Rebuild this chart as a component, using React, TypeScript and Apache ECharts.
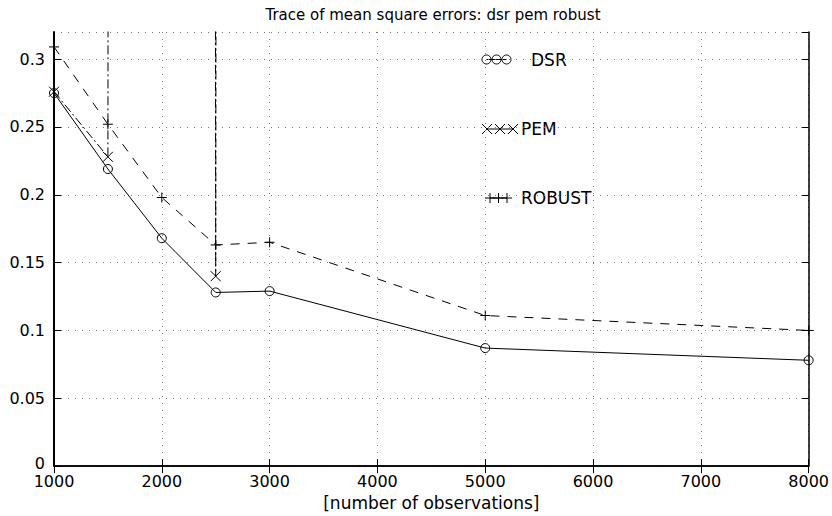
import React, { useEffect, useRef } from "react";
import * as echarts from "echarts";

const titleText = "Trace of mean square errors: dsr pem robust";
const xName = "[number of observations]";
const observations = [1000, 1500, 2000, 2500, 3000, 5000, 8000];
const dsrValues = [0.275, 0.219, 0.168, 0.128, 0.129, 0.087, 0.078];
// PEM leaves the plotted range (very large values) at 2000, 3000, 5000, 8000
const pemValues = [0.276, 0.228, 40, 0.14, 40, 40, 40];
const robustValues = [0.309, 0.252, 0.198, 0.163, 0.165, 0.111, 0.1];
const legendNames = ["DSR", "PEM", "ROBUST"];

const FONT = "DejaVu Sans";
const BLACK = "#000";

const crossPath = "path://M0 0L10 10M10 0L0 10";
const plusPath = "path://M5 0L5 10M0 5L10 5";

function pairs(ys: number[]) {
  return observations.map((x, i) => [x, ys[i]]);
}

export default function App() {
  const ref = useRef<HTMLDivElement>(null);
  useEffect(() => {
    if (!ref.current) return;
    const chart = echarts.init(ref.current, undefined, { renderer: "svg" });
    const axisLineStyle = { color: BLACK, width: 1.5 };
    const stroke = { stroke: BLACK, lineWidth: 1, fill: "none" };
    const cross = (cx: number, cy: number, h: number) => [
      { type: "line", shape: { x1: cx - h, y1: cy - h, x2: cx + h, y2: cy + h }, style: stroke },
      { type: "line", shape: { x1: cx - h, y1: cy + h, x2: cx + h, y2: cy - h }, style: stroke },
    ];
    const plus = (cx: number, cy: number, h: number) => [
      { type: "line", shape: { x1: cx - h, y1: cy, x2: cx + h, y2: cy }, style: stroke },
      { type: "line", shape: { x1: cx, y1: cy - h, x2: cx, y2: cy + h }, style: stroke },
    ];
    const legendFont = `17px "${FONT}"`;
    const option: any = {
      animation: false,
      backgroundColor: "#fff",
      grid: { left: 54, right: 20, top: 32, bottom: 40, containLabel: false },
      xAxis: [
        {
          type: "value",
          min: 1000,
          max: 8000,
          interval: 1000,
          position: "bottom",
          name: xName,
          nameLocation: "middle",
          nameGap: 19,
          nameTextStyle: { color: BLACK, fontFamily: FONT, fontSize: 17, lineHeight: 17 },
          axisLine: { show: true, lineStyle: axisLineStyle },
          axisTick: { show: true, inside: true, length: 7, lineStyle: { color: BLACK } },
          axisLabel: {
            color: BLACK,
            fontFamily: FONT,
            fontSize: 16,
            lineHeight: 14,
            margin: 8,
            formatter: (v: number) => String(v),
          },
          splitLine: { show: true, lineStyle: { color: "#777", type: [1, 6], width: 1 } },
        },
        {
          type: "value",
          min: 1000,
          max: 8000,
          interval: 1000,
          position: "top",
          axisLine: { show: true, lineStyle: axisLineStyle },
          axisTick: { show: true, inside: true, length: 7, lineStyle: { color: BLACK } },
          axisLabel: { show: false },
          splitLine: { show: false },
        },
      ],
      yAxis: [
        {
          type: "value",
          min: 0,
          max: 0.32,
          interval: 0.05,
          position: "left",
          axisLine: { show: true, lineStyle: { color: BLACK, width: 2 } },
          axisTick: { show: true, inside: true, length: 7, lineStyle: { color: BLACK } },
          axisLabel: {
            color: BLACK,
            fontFamily: FONT,
            fontSize: 16,
            lineHeight: 13,
            margin: 9,
            showMaxLabel: false,
            formatter: (v: number) => (v === 0 ? "{z|0}" : String(+v.toFixed(2))),
            rich: {
              z: {
                color: BLACK,
                fontFamily: FONT,
                fontSize: 16,
                lineHeight: 13,
                padding: [0, 0, 5, 0],
              },
            },
          },
          splitLine: { show: true, lineStyle: { color: "#777", type: [1, 6], width: 1 } },
        },
        {
          type: "value",
          min: 0,
          max: 0.32,
          interval: 0.05,
          position: "right",
          axisLine: { show: true, lineStyle: axisLineStyle },
          axisTick: { show: true, inside: true, length: 7, lineStyle: { color: BLACK } },
          axisLabel: { show: false },
          splitLine: { show: false },
        },
      ],
      series: [
        {
          name: "DSR",
          type: "line",
          data: pairs(dsrValues),
          xAxisIndex: 0,
          yAxisIndex: 0,
          clip: true,
          symbol: "circle",
          symbolSize: 9,
          lineStyle: { color: BLACK, width: 1, type: "solid" },
          itemStyle: { color: "none", borderColor: BLACK, borderWidth: 1 },
          z: 3,
        },
        {
          name: "PEM",
          type: "line",
          data: pairs(pemValues),
          xAxisIndex: 0,
          yAxisIndex: 0,
          clip: true,
          symbol: crossPath,
          symbolSize: 10,
          lineStyle: { color: BLACK, width: 1, type: [9, 3, 2, 3] },
          itemStyle: { color: "none", borderColor: BLACK, borderWidth: 1 },
          z: 3,
        },
        {
          name: "ROBUST",
          type: "line",
          data: pairs(robustValues),
          xAxisIndex: 0,
          yAxisIndex: 0,
          clip: true,
          symbol: plusPath,
          symbolSize: 10,
          lineStyle: { color: BLACK, width: 1, type: [9, 8] },
          itemStyle: { color: "none", borderColor: BLACK, borderWidth: 1 },
          z: 3,
        },
      ],
      graphic: [
        {
          type: "text",
          x: 433,
          y: 15,
          style: {
            text: titleText,
            font: `15px "${FONT}"`,
            fill: BLACK,
            textAlign: "center",
            textVerticalAlign: "middle",
          },
        },
        // legend: DSR
        { type: "line", shape: { x1: 486.5, y1: 59.5, x2: 506.5, y2: 59.5 }, style: stroke },
        { type: "circle", shape: { cx: 486.5, cy: 59.5, r: 4.5 }, style: stroke },
        { type: "circle", shape: { cx: 496.5, cy: 59.5, r: 4.5 }, style: stroke },
        { type: "circle", shape: { cx: 506.5, cy: 59.5, r: 4.5 }, style: stroke },
        {
          type: "text",
          x: 531,
          y: 59.5,
          style: { text: legendNames[0], font: legendFont, fill: BLACK, textVerticalAlign: "middle" },
        },
        // legend: PEM
        { type: "line", shape: { x1: 487, y1: 129, x2: 513, y2: 129 }, style: stroke },
        ...cross(487, 129, 5),
        ...cross(500, 129, 5),
        ...cross(513, 129, 5),
        {
          type: "text",
          x: 521,
          y: 129,
          style: { text: legendNames[1], font: legendFont, fill: BLACK, textVerticalAlign: "middle" },
        },
        // legend: ROBUST
        { type: "line", shape: { x1: 490, y1: 198, x2: 507, y2: 198 }, style: stroke },
        ...plus(490, 198, 5),
        ...plus(498.5, 198, 5),
        ...plus(507, 198, 5),
        {
          type: "text",
          x: 521,
          y: 198,
          style: { text: legendNames[2], font: legendFont, fill: BLACK, textVerticalAlign: "middle" },
        },
      ],
    };
    chart.setOption(option);
    return () => chart.dispose();
  }, []);
  return (
    <div
      ref={ref}
      style={{ position: "fixed", left: 0, top: 0, width: 832, height: 516, background: "#fff" }}
    />
  );
}
